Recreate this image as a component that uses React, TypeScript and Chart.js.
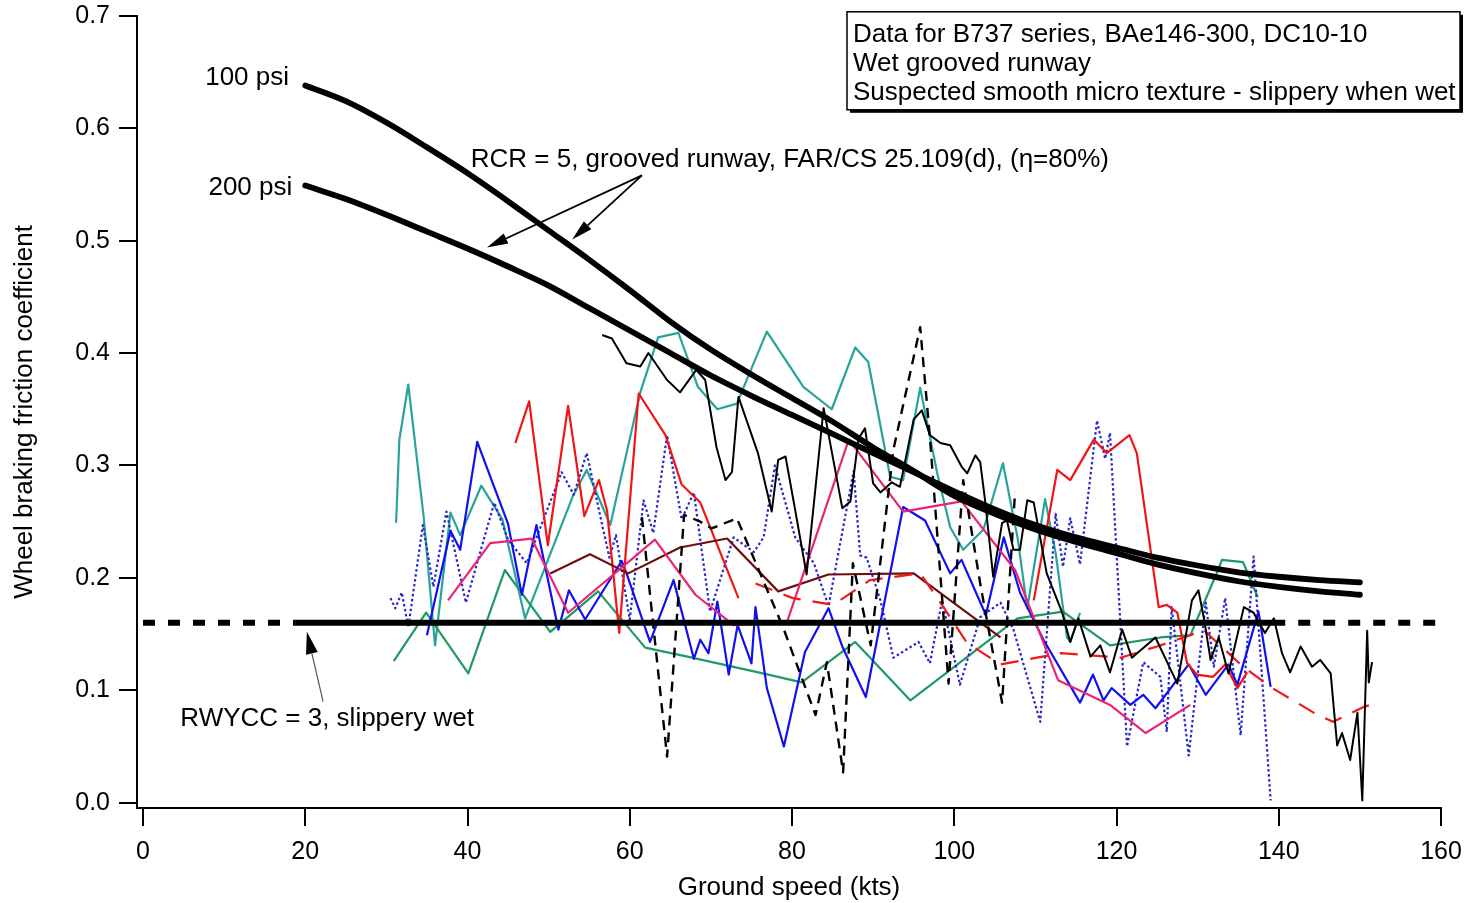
import React, { useEffect, useRef } from 'react';
import { Chart, registerables } from 'chart.js';

Chart.register(...registerables);

type Pt = [number, number];

const FONT = '"Liberation Sans", Arial, Helvetica, sans-serif';

const X_TICKS = [0, 20, 40, 60, 80, 100, 120, 140, 160];
const Y_TICKS = [0, 0.1, 0.2, 0.3, 0.4, 0.5, 0.6, 0.7];

// Reference curves (RCR = 5, grooved runway)
const psi100: Pt[] = [
  [20, 0.638], [25, 0.624], [30, 0.605], [35, 0.583], [40, 0.56], [45, 0.535], [50, 0.509],
  [55, 0.483], [60, 0.456], [65, 0.428], [70, 0.403], [75, 0.381], [80, 0.36], [85, 0.339],
  [90, 0.316], [95, 0.295], [100, 0.273], [105, 0.257], [110, 0.243], [115, 0.232], [120, 0.222],
  [125, 0.212], [130, 0.204], [135, 0.197], [140, 0.192], [145, 0.188], [150, 0.185],
];
const psi200: Pt[] = [
  [20, 0.549], [25, 0.537], [30, 0.523], [35, 0.508], [40, 0.493], [45, 0.477], [50, 0.46],
  [55, 0.44], [60, 0.42], [65, 0.4], [70, 0.38], [75, 0.362], [80, 0.345], [85, 0.328],
  [90, 0.311], [95, 0.294], [100, 0.277], [105, 0.261], [110, 0.247], [115, 0.236], [120, 0.227],
  [125, 0.218], [130, 0.211], [135, 0.205], [140, 0.201], [145, 0.198], [150, 0.196],
];

// RWYCC = 3 threshold
const RWYCC_LEVEL = 0.16;
const RWYCC_SOLID_FROM = 18.85;
const RWYCC_SOLID_TO = 140.8;
const RWYCC_RIGHT_DASH_FROM = 142.4;

// Measured data series
const teal: Pt[] = [
  [31.2, 0.249], [31.6, 0.323], [32.7, 0.372], [34.6, 0.254], [36.0, 0.14], [37.9, 0.258], [39.1, 0.238],
  [41.7, 0.282], [44.3, 0.252], [47.1, 0.164], [53.0, 0.273], [54.7, 0.296], [57.6, 0.247], [61.3, 0.365],
  [63.5, 0.414], [66.0, 0.418], [68.4, 0.37], [70.8, 0.35], [73.2, 0.355], [76.9, 0.419], [81.4, 0.37],
  [84.9, 0.35], [87.8, 0.405], [89.4, 0.392], [92.1, 0.29], [93.7, 0.287], [95.8, 0.369], [97.9, 0.293],
  [99.5, 0.245], [101.1, 0.225], [103.6, 0.243], [106.0, 0.302], [107.8, 0.236], [109.0, 0.173],
  [111.2, 0.27], [112.5, 0.222], [113.9, 0.147], [114.3, 0.143], [115.5, 0.169],
];
const green: Pt[] = [
  [30.9, 0.126], [34.9, 0.169], [40.1, 0.115], [44.6, 0.207], [50.2, 0.152], [56.1, 0.188], [61.9, 0.138],
  [67.1, 0.13], [76.4, 0.115], [81.2, 0.107], [87.8, 0.143], [94.6, 0.091], [107.8, 0.164], [113.4, 0.17],
  [119.2, 0.14], [125.4, 0.147], [129.1, 0.149], [132.4, 0.205], [133.0, 0.216], [135.6, 0.214], [137.4, 0.183],
];
const blue: Pt[] = [
  [35.0, 0.149], [37.9, 0.242], [39.1, 0.225], [41.2, 0.321], [45.0, 0.248], [46.7, 0.185], [48.5, 0.247],
  [51.2, 0.154], [52.5, 0.189], [54.5, 0.163], [59.0, 0.215], [59.6, 0.204], [62.5, 0.143], [65.4, 0.198],
  [67.9, 0.128], [68.7, 0.145], [69.7, 0.133], [70.8, 0.179], [72.2, 0.114], [73.3, 0.158], [75.0, 0.124],
  [75.5, 0.174], [76.9, 0.102], [79.0, 0.05], [81.6, 0.134], [84.5, 0.173], [86.2, 0.139], [89.1, 0.094],
  [93.7, 0.263], [96.4, 0.251], [99.5, 0.204], [100.9, 0.216], [103.9, 0.167], [106.1, 0.236], [108.1, 0.187],
  [111.0, 0.145], [115.5, 0.089], [117.1, 0.114], [118.4, 0.091], [119.4, 0.102], [121.7, 0.087],
  [123.3, 0.096], [124.8, 0.084], [128.9, 0.123], [131.0, 0.096], [133.8, 0.123], [134.9, 0.105],
  [137.5, 0.17], [139.0, 0.103],
];
const blueDotted: Pt[] = [
  [30.5, 0.182], [31.1, 0.173], [31.9, 0.187], [32.7, 0.156], [34.5, 0.247], [35.8, 0.192], [37.4, 0.259],
  [39.8, 0.178], [43.3, 0.267], [45.0, 0.234], [47.3, 0.213], [51.6, 0.294], [53.1, 0.274], [54.7, 0.311],
  [56.6, 0.247], [57.5, 0.218], [58.3, 0.238], [60.0, 0.163], [61.7, 0.269], [62.9, 0.24], [64.6, 0.327],
  [66.4, 0.252], [67.9, 0.276], [69.9, 0.17], [72.8, 0.236], [75.3, 0.223], [76.5, 0.236], [77.9, 0.3],
  [80.4, 0.236], [82.7, 0.213], [84.5, 0.175], [87.6, 0.295], [88.4, 0.22], [89.2, 0.218], [90.9, 0.18],
  [92.5, 0.129], [95.6, 0.143], [97.0, 0.124], [98.5, 0.18], [100.7, 0.105], [103.2, 0.165], [105.7, 0.178],
  [107.3, 0.154], [110.6, 0.072], [112.5, 0.257], [113.4, 0.21], [114.3, 0.253], [115.5, 0.212],
  [117.6, 0.34], [118.6, 0.306], [119.2, 0.329], [121.3, 0.05], [123.3, 0.125], [125.4, 0.112],
  [126.2, 0.063], [126.8, 0.174], [128.9, 0.042], [131.0, 0.178], [132.0, 0.121], [133.4, 0.182],
  [135.3, 0.06], [136.9, 0.219], [139.0, 0.002],
];
const redLow: Pt[] = [
  [45.9, 0.32], [47.6, 0.357], [49.9, 0.229], [52.4, 0.353], [54.4, 0.255], [56.2, 0.287], [57.2, 0.26],
  [58.7, 0.151], [61.1, 0.364], [64.4, 0.327], [66.4, 0.283], [68.7, 0.267], [73.4, 0.182],
];
const redHigh: Pt[] = [
  [109.8, 0.18], [112.7, 0.296], [114.3, 0.287], [117.2, 0.323], [118.8, 0.311], [121.6, 0.327],
  [122.5, 0.311], [125.2, 0.174], [126.2, 0.176], [127.5, 0.169], [128.7, 0.124], [129.9, 0.114],
  [131.9, 0.112], [133.4, 0.123], [134.9, 0.102], [136.1, 0.116],
];
const redDashed: Pt[] = [
  [75.5, 0.195], [80.1, 0.182], [85.1, 0.176], [89.6, 0.198], [95.8, 0.204], [98.3, 0.178], [101.6, 0.142],
  [105.7, 0.123], [110.2, 0.129], [113.1, 0.133], [118.9, 0.13], [120.5, 0.129], [125.0, 0.139],
  [129.1, 0.149], [130.7, 0.154], [135.6, 0.121], [139.2, 0.102], [144.8, 0.078], [146.7, 0.072],
  [150.4, 0.085], [152.2, 0.089],
];
const brown: Pt[] = [
  [50.2, 0.204], [55.1, 0.221], [59.8, 0.204], [66.2, 0.227], [72.0, 0.235], [78.3, 0.188], [84.5, 0.203],
  [95.0, 0.204], [105.7, 0.147],
];
const pink: Pt[] = [
  [37.6, 0.18], [42.8, 0.231], [47.9, 0.235], [52.4, 0.169], [63.1, 0.234], [68.1, 0.185], [72.8, 0.158],
  [79.4, 0.161], [87.0, 0.323], [93.7, 0.259], [100.9, 0.268], [107.5, 0.207], [112.8, 0.109],
  [119.2, 0.087], [123.6, 0.062], [129.1, 0.087],
];
const blackSolid: Pt[] = [
  [56.6, 0.416], [57.8, 0.413], [59.6, 0.391], [61.3, 0.388], [62.3, 0.4], [64.6, 0.376], [66.2, 0.365],
  [68.2, 0.385], [69.3, 0.376], [70.7, 0.316], [71.8, 0.287], [72.6, 0.294], [73.4, 0.361], [75.8, 0.311],
  [77.5, 0.259], [78.3, 0.305], [79.2, 0.308], [80.4, 0.26], [81.8, 0.203], [83.9, 0.351], [86.2, 0.262],
  [87.2, 0.268], [88.2, 0.324], [89.0, 0.333], [90.0, 0.284], [90.9, 0.276], [92.3, 0.285], [93.3, 0.281],
  [95.0, 0.341], [96.0, 0.349], [97.0, 0.327], [98.3, 0.32], [99.5, 0.318], [100.9, 0.299], [101.6, 0.293],
  [102.6, 0.309], [103.2, 0.303], [103.8, 0.269], [104.8, 0.201], [105.9, 0.249], [106.5, 0.251],
  [107.3, 0.225], [108.1, 0.225], [109.0, 0.269], [109.8, 0.267], [111.4, 0.204], [113.3, 0.169],
  [114.3, 0.143], [115.3, 0.164], [116.8, 0.13], [118.0, 0.14], [119.2, 0.116], [120.7, 0.154],
  [121.9, 0.129], [124.8, 0.147], [127.5, 0.106], [129.3, 0.18], [130.1, 0.189], [130.8, 0.163],
  [131.6, 0.127], [132.6, 0.147], [133.8, 0.115], [135.7, 0.174], [136.9, 0.169], [138.3, 0.151],
  [139.4, 0.164], [140.4, 0.133], [141.4, 0.116], [142.7, 0.139], [144.1, 0.121], [145.1, 0.127],
  [146.4, 0.115], [147.2, 0.051], [147.8, 0.062], [148.8, 0.038], [149.7, 0.08], [150.3, 0.002],
  [150.9, 0.153], [151.1, 0.107], [151.5, 0.125],
];
const blackDashed: Pt[] = [
  [61.5, 0.254], [64.6, 0.041], [66.7, 0.256], [68.7, 0.25], [70.1, 0.244], [73.2, 0.253], [78.9, 0.156],
  [82.9, 0.078], [84.3, 0.125], [86.3, 0.027], [87.5, 0.213], [89.7, 0.14], [92.5, 0.314], [95.8, 0.423],
  [97.0, 0.325], [99.3, 0.106], [101.1, 0.287], [103.2, 0.195], [105.9, 0.089], [107.5, 0.277],
];

// Annotations (data coordinates)
const PSI_LABELS: { text: string; x: number; y: number }[] = [
  { text: '100 psi', x: 18.0, y: 0.645 },
  { text: '200 psi', x: 18.4, y: 0.547 },
];
const RCR_LABEL = { text: 'RCR = 5, grooved runway, FAR/CS 25.109(d), (\u03B7=80%)', x: 40.4, y: 0.572 };
const RCR_ARROW_FROM: Pt = [61.5, 0.558];
const RCR_ARROW_TIPS: Pt[] = [[42.4, 0.494], [52.9, 0.501]];
const RWYCC_LABEL = { text: 'RWYCC = 3, slippery wet', x: 4.6, y: 0.075 };
const RWYCC_ARROW: [Pt, Pt] = [[22.2, 0.09], [20.2, 0.152]];
const INFO_LINES = [
  'Data for B737 series, BAe146-300, DC10-10',
  'Wet grooved runway',
  'Suspected smooth micro texture - slippery when wet',
];

function drawArrow(
  ctx: CanvasRenderingContext2D,
  x0: number, y0: number, x1: number, y1: number,
  lineColor: string, lw: number, hl: number, hw: number,
) {
  const a = Math.atan2(y1 - y0, x1 - x0);
  const bx = x1 - hl * Math.cos(a);
  const by = y1 - hl * Math.sin(a);
  ctx.strokeStyle = lineColor;
  ctx.lineWidth = lw;
  ctx.setLineDash([]);
  ctx.beginPath();
  ctx.moveTo(x0, y0);
  ctx.lineTo(bx, by);
  ctx.stroke();
  ctx.fillStyle = '#000';
  ctx.beginPath();
  ctx.moveTo(x1, y1);
  ctx.lineTo(bx + (hw / 2) * Math.sin(a), by - (hw / 2) * Math.cos(a));
  ctx.lineTo(bx - (hw / 2) * Math.sin(a), by + (hw / 2) * Math.cos(a));
  ctx.closePath();
  ctx.fill();
}

const annotationPlugin = {
  id: 'annotations',
  afterDatasetsDraw(chart: any) {
    const { ctx, chartArea } = chart;
    const xs = chart.scales.x;
    const ys = chart.scales.y;
    const px = (v: number) => xs.getPixelForValue(v);
    const py = (v: number) => ys.getPixelForValue(v);
    ctx.save();
    ctx.font = `26px ${FONT}`;
    ctx.fillStyle = '#000';
    ctx.textBaseline = 'middle';

    ctx.textAlign = 'right';
    PSI_LABELS.forEach((l) => ctx.fillText(l.text, px(l.x), py(l.y)));

    ctx.textAlign = 'left';
    ctx.fillText(RCR_LABEL.text, px(RCR_LABEL.x), py(RCR_LABEL.y));
    ctx.fillText(RWYCC_LABEL.text, px(RWYCC_LABEL.x), py(RWYCC_LABEL.y));

    RCR_ARROW_TIPS.forEach((t) =>
      drawArrow(ctx, px(RCR_ARROW_FROM[0]), py(RCR_ARROW_FROM[1]), px(t[0]), py(t[1]), '#000', 1.8, 21, 11),
    );
    drawArrow(
      ctx,
      px(RWYCC_ARROW[0][0]), py(RWYCC_ARROW[0][1]),
      px(RWYCC_ARROW[1][0]), py(RWYCC_ARROW[1][1]),
      '#555', 1.2, 22, 12,
    );

    // info box
    const bx0 = chartArea.right - 594;
    const by0 = chartArea.top - 4;
    const bw = 613;
    const bh = 98;
    ctx.fillStyle = '#000';
    ctx.fillRect(bx0 + 3, by0 + 3, bw, bh);
    ctx.fillStyle = '#fff';
    ctx.fillRect(bx0, by0, bw, bh);
    ctx.strokeStyle = '#000';
    ctx.lineWidth = 1.5;
    ctx.strokeRect(bx0, by0, bw, bh);
    ctx.fillStyle = '#000';
    ctx.textAlign = 'left';
    INFO_LINES.forEach((t, i) => ctx.fillText(t, bx0 + 6, by0 + 23 + i * 29));
    ctx.restore();
  },
};

const toXY = (pts: Pt[]) => pts.map(([x, y]) => ({ x, y }));

function series(pts: Pt[], color: string, width: number, dash: number[] = [], extra: any = {}) {
  return {
    data: toXY(pts),
    borderColor: color,
    backgroundColor: color,
    borderWidth: width,
    borderDash: dash,
    borderCapStyle: 'butt',
    borderJoinStyle: 'round',
    pointRadius: 0,
    fill: false,
    tension: 0,
    ...extra,
  };
}

const zeroPadding = (s: any) => {
  s.paddingTop = 0;
  s.paddingBottom = 0;
  s.paddingLeft = 0;
  s.paddingRight = 0;
};

export default function App() {
  const ref = useRef<HTMLCanvasElement>(null);

  useEffect(() => {
    const canvas = ref.current;
    if (!canvas) return;

    const rwyLeft: Pt[] = [[0, RWYCC_LEVEL], [RWYCC_SOLID_FROM, RWYCC_LEVEL]];
    const rwySolid: Pt[] = [[RWYCC_SOLID_FROM, RWYCC_LEVEL], [RWYCC_SOLID_TO, RWYCC_LEVEL]];
    const rwyRight: Pt[] = [[RWYCC_RIGHT_DASH_FROM, RWYCC_LEVEL], [160, RWYCC_LEVEL]];

    const chart = new Chart(canvas, {
      type: 'line',
      data: {
        datasets: [
          series(psi100, '#000', 5.8, [], { cubicInterpolationMode: 'monotone', borderCapStyle: 'round' }),
          series(psi200, '#000', 5.8, [], { cubicInterpolationMode: 'monotone', borderCapStyle: 'round' }),
          series(rwySolid, '#000', 6),
          series(rwyLeft, '#000', 6, [12, 13]),
          series(rwyRight, '#000', 6, [12, 13]),
          series(blackDashed, '#000', 2.4, [10, 7]),
          series(blackSolid, '#000', 2),
          series(redDashed, '#f01818', 2.2, [18, 12]),
          series(pink, '#ec2478', 2.2),
          series(brown, '#6e1010', 2.2),
          series(redLow, '#f21414', 2.2),
          series(redHigh, '#f21414', 2.2),
          series(blue, '#1010f0', 2.2),
          series(blueDotted, '#2828c8', 2.2, [2.5, 2.5]),
          series(green, '#1e9a62', 2.2),
          series(teal, '#28a39c', 2.2),
        ] as any,
      },
      options: {
        animation: false,
        responsive: false,
        events: [],
        layout: { padding: { top: 15.8, right: 25, left: 0, bottom: 0 } },
        plugins: { legend: { display: false }, tooltip: { enabled: false } },
        scales: {
          x: {
            type: 'linear',
            min: -0.74,
            max: 160,
            afterBuildTicks: (s: any) => {
              s.ticks = X_TICKS.map((v) => ({ value: v }));
            },
            afterFit: (s: any) => {
              s.height = 95;
              zeroPadding(s);
            },
            ticks: {
              autoSkip: false,
              maxRotation: 0,
              padding: 11,
              color: '#000',
              font: { family: FONT, size: 25 },
              callback: (v: any) => String(v),
            },
            grid: {
              display: true,
              drawOnChartArea: false,
              drawTicks: true,
              tickLength: 18,
              color: '#000',
              lineWidth: 2,
            },
            border: { display: true, color: '#000', width: 2 },
            title: {
              display: true,
              text: 'Ground speed (kts)',
              color: '#000',
              font: { family: FONT, size: 26 },
              padding: { top: 0, bottom: 0 },
            },
          },
          y: {
            type: 'linear',
            min: -0.0047,
            max: 0.7,
            afterBuildTicks: (s: any) => {
              s.ticks = Y_TICKS.map((v) => ({ value: v }));
            },
            afterFit: (s: any) => {
              s.width = 137;
              zeroPadding(s);
            },
            ticks: {
              autoSkip: false,
              padding: 9,
              color: '#000',
              font: { family: FONT, size: 25 },
              callback: (v: any) => Number(v).toFixed(1),
            },
            grid: {
              display: true,
              drawOnChartArea: false,
              drawTicks: true,
              tickLength: 18,
              color: '#000',
              lineWidth: 2,
            },
            border: { display: true, color: '#000', width: 2 },
            title: {
              display: true,
              text: 'Wheel braking friction coefficient',
              color: '#000',
              font: { family: FONT, size: 26 },
              padding: { top: 9.4, bottom: 0 },
            },
          },
        },
      } as any,
      plugins: [annotationPlugin],
    });

    return () => chart.destroy();
  }, []);

  return (
    <div style={{ position: 'fixed', left: 0, top: 0, width: 1466, height: 903, background: '#fff' }}>
      <canvas ref={ref} width={1466} height={903} style={{ display: 'block', width: 1466, height: 903 }} />
    </div>
  );
}
